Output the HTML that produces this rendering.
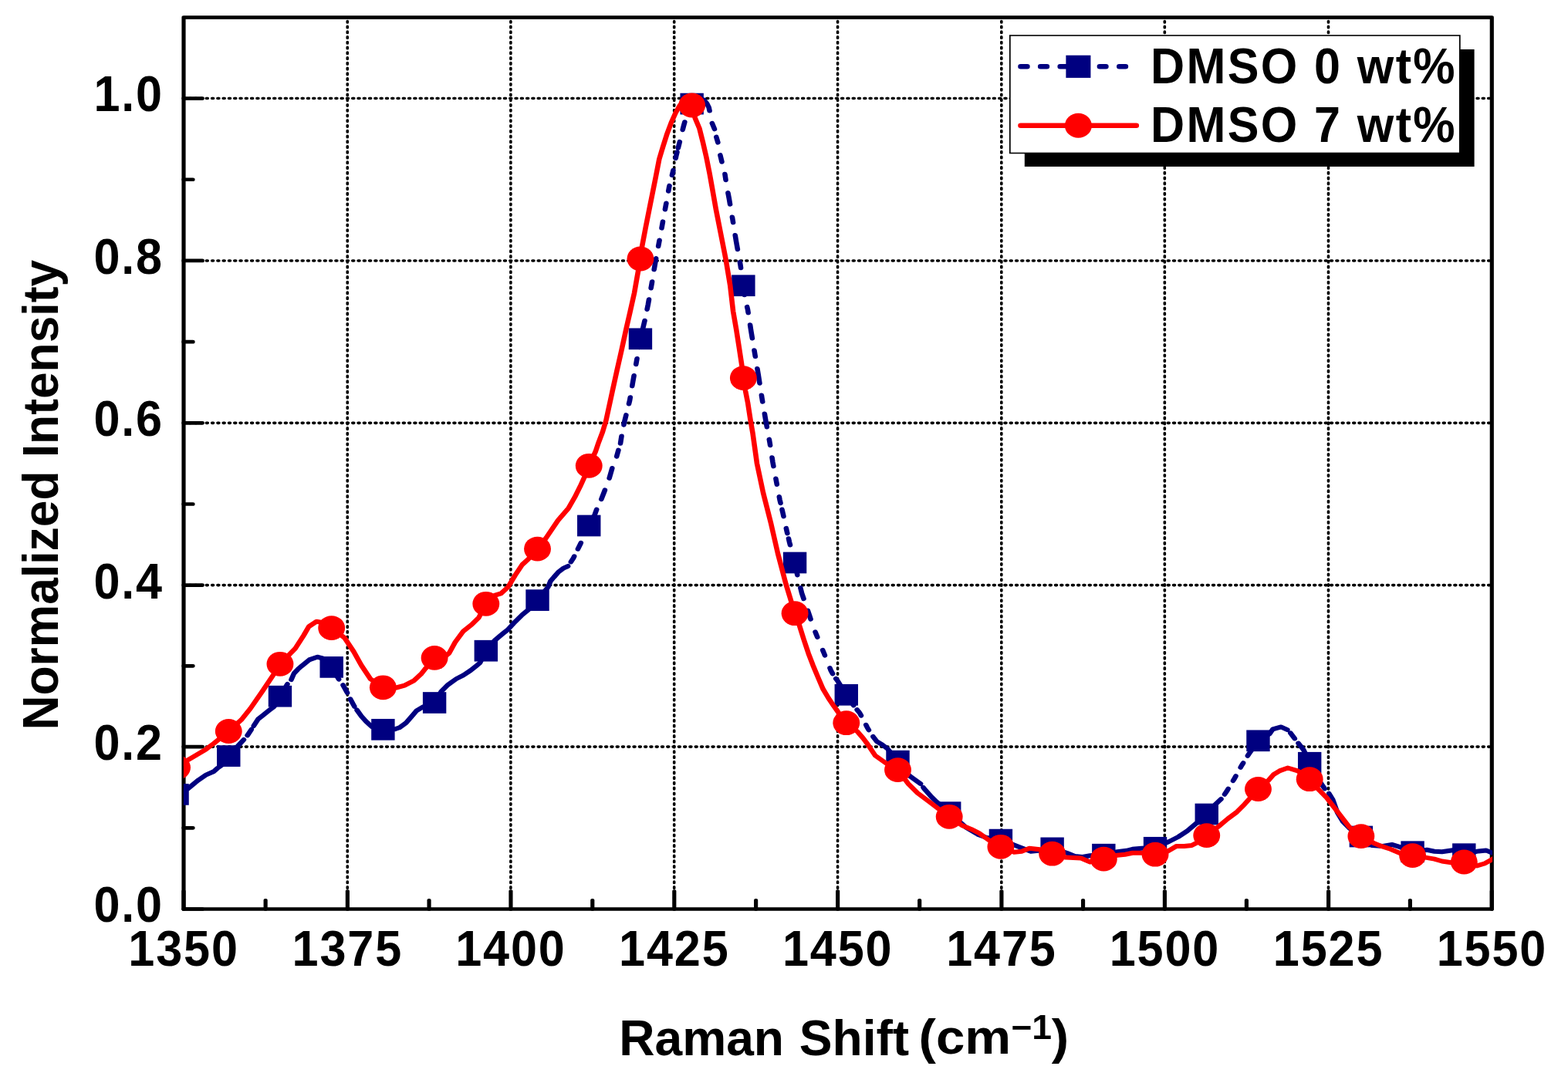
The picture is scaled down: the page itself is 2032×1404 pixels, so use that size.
<!DOCTYPE html>
<html lang="en"><head><meta charset="utf-8"><title>Raman spectra: DMSO 0 wt% vs DMSO 7 wt%</title>
<style>html,body{margin:0;padding:0;background:#fff}body{width:2032px;height:1404px}svg{display:block}text{font-family:"Liberation Sans",sans-serif;font-weight:bold;fill:#000}</style></head><body>
<svg width="2032" height="1404" viewBox="0 0 2032 1404" role="img" aria-label="Normalized Raman intensity versus Raman shift">
<rect width="2032" height="1404" fill="#ffffff"/>
<defs><clipPath id="plot"><rect x="216.77" y="22.7" width="1545.51" height="1155.8"/></clipPath></defs>
<g transform="scale(1.0975 1)">
<g stroke="#000" stroke-linecap="round" fill="none">
<g stroke-width="3.3" stroke-dasharray="1.75 5.011" stroke-dashoffset="2.06">
<line x1="410.25" y1="22.7" x2="410.25" y2="1178.5"/>
<line x1="603.05" y1="22.7" x2="603.05" y2="1178.5"/>
<line x1="796.08" y1="22.7" x2="796.08" y2="1178.5"/>
<line x1="989.11" y1="22.7" x2="989.11" y2="1178.5"/>
<line x1="1182.51" y1="22.7" x2="1182.51" y2="1178.5"/>
<line x1="1375.22" y1="22.7" x2="1375.22" y2="1178.5"/>
<line x1="1568.56" y1="22.7" x2="1568.56" y2="1178.5"/>
</g>
<g stroke-width="3.6" stroke-dasharray="1.5 5.139" stroke-dashoffset="-0.31">
<line x1="216.86" y1="127.55" x2="1761.55" y2="127.55"/>
<line x1="216.86" y1="337.95" x2="1761.55" y2="337.95"/>
<line x1="216.86" y1="548.35" x2="1761.55" y2="548.35"/>
<line x1="216.86" y1="758.6" x2="1761.55" y2="758.6"/>
<line x1="216.86" y1="968.1" x2="1761.55" y2="968.1"/>
</g>
</g>
<g stroke="#000" stroke-width="4.7" stroke-linecap="round" stroke-linejoin="round" fill="none">
<rect x="216.86" y="22.7" width="1544.69" height="1155.8"/>
<line x1="216.86" y1="1178.5" x2="216.86" y2="1155.5"/>
<line x1="313.55" y1="1178.5" x2="313.55" y2="1167.4"/>
<line x1="410.34" y1="1178.5" x2="410.34" y2="1155.5"/>
<line x1="506.65" y1="1178.5" x2="506.65" y2="1167.4"/>
<line x1="603.14" y1="1178.5" x2="603.14" y2="1155.5"/>
<line x1="699.57" y1="1178.5" x2="699.57" y2="1167.4"/>
<line x1="796.17" y1="1178.5" x2="796.17" y2="1155.5"/>
<line x1="892.6" y1="1178.5" x2="892.6" y2="1167.4"/>
<line x1="989.2" y1="1178.5" x2="989.2" y2="1155.5"/>
<line x1="1085.81" y1="1178.5" x2="1085.81" y2="1167.4"/>
<line x1="1182.6" y1="1178.5" x2="1182.6" y2="1155.5"/>
<line x1="1278.86" y1="1178.5" x2="1278.86" y2="1167.4"/>
<line x1="1375.31" y1="1178.5" x2="1375.31" y2="1155.5"/>
<line x1="1471.89" y1="1178.5" x2="1471.89" y2="1167.4"/>
<line x1="1568.66" y1="1178.5" x2="1568.66" y2="1155.5"/>
<line x1="1665.06" y1="1178.5" x2="1665.06" y2="1167.4"/>
<line x1="1761.55" y1="1178.5" x2="1761.55" y2="1155.5"/>
<line x1="216.86" y1="1178.5" x2="239" y2="1178.5"/>
<line x1="216.86" y1="1073.3" x2="227.79" y2="1073.3"/>
<line x1="216.86" y1="968.1" x2="239" y2="968.1"/>
<line x1="216.86" y1="863.35" x2="227.79" y2="863.35"/>
<line x1="216.86" y1="758.6" x2="239" y2="758.6"/>
<line x1="216.86" y1="653.48" x2="227.79" y2="653.48"/>
<line x1="216.86" y1="548.35" x2="239" y2="548.35"/>
<line x1="216.86" y1="443.15" x2="227.79" y2="443.15"/>
<line x1="216.86" y1="337.95" x2="239" y2="337.95"/>
<line x1="216.86" y1="232.75" x2="227.79" y2="232.75"/>
<line x1="216.86" y1="127.55" x2="239" y2="127.55"/>
</g>
<g clip-path="url(#plot)">
<path d="M209.16 1029.9L221.87 1022.4L234.26 1011.3L243.19 1004.6L252.21 1000.3L256.67 996L262.23 991.7L269.94 980.1L283.55 964L287.87 958.92M292.13 953.37L292.48 952.9L296.82 945.68M299.58 941.04L304.78 932.2L310.89 926.9L317.63 921L323.74 915.9L330.72 902.7L339.32 887L339.33 886.99M343.92 881.07L347.15 873L351.71 867.7L356.17 863.4L365.1 855.4L374.67 851.7L380.87 853.5L391.51 864.9L399.91 880.4L400.09 880.67M405.02 888.2L409.93 897.8L410.05 898.06M413.78 906.25L413.85 906.4L418.41 915.7L418.46 915.79M421.47 920.51L426.79 928.6L432.35 935.4L439.09 942.1L452.29 945.8L466.42 945.2L471.62 943.3L479.45 937.2L486.2 928.6L492.03 921.2L499.32 916.5L513.08 911L520.73 896.8L529.11 887.6L538.86 880L547.15 875.4L555.54 869.3L562.46 863.2L566.65 859.4L573.86 843.7L584.69 829.7L593.08 822L600 815.9L606.92 807.6L616.67 796.9L623.6 790.8L634.64 778.1L647.2 761L650.02 753.4L654.21 748L659.77 741.2L665.33 736.6L670.74 733.97M674.11 728.44L677.08 723.4L678.04 721.29M682.37 711.73L685.1 705.7L685.91 703.81M691.4 690.93L695.43 681.5L702.14 667.5L704.49 660.58M710.04 647.19L714.26 635.38M719.45 619.93L722.84 607.02M728.16 591.74L730.24 583.57M732.63 574.72L733.92 565.52M736.61 550.76L737.4 546.5L739.29 538.11M742.59 523.48L743.6 519L744.19 515.2M746.48 500.37L747.24 495.4L748.6 486.99M751 472.18L751.71 467.8L752.15 464.98M754.49 450.16L756.21 439.3L761.31 415.71M764.08 400.97L765.19 395L766.28 388.29M768.67 373.49L769.66 367.4L769.99 365.21M772.39 349.39L774.12 338L774.64 335.01M777.35 319.24L778.68 311.44M781.31 295.66L782.67 287.34M785.32 271.56L786.68 263.52M789.26 247.73L790.25 241.7L790.45 240.81M793.55 227.15L794.72 222L794.93 220.82M797.86 205.09L798.36 202.4L799.54 197.18M800.76 191.81L802.57 183.81M806.11 168.21L807.29 163L808.5 158.21M812.34 146.34L816.99 134.6L823.69 129.5L831.16 129.6L834.72 134.3L836.99 139.2L837.87 143.55M840.87 159.76L843.68 167.31M845.84 177.67L847.69 184.61M850.44 201.16L852.36 209.72M855.99 225.81L856.96 233.18M859.6 249.97L860.87 257.2L862.04 264.83M864.61 281.43L865.15 284.9L865.66 288.37M868.11 304.99L869.43 313.9L870.97 323.31M873.69 339.89L874.26 343.4L874.77 347.3M876.85 363.17L877.78 370.25L878.99 382.21M882.17 397.88L882.92 401.3L883.49 405.37M885.74 421.21L886.92 429.6L888.27 438.48M890.66 454.3L891.21 457.9L891.84 462.1M894.23 477.92L895.49 486.3L896.96 496.66M899.22 512.5L899.77 516.4L900.43 520.71M902.85 536.53L904.15 545L905.57 553.53M908.25 569.6L908.88 573.4L909.41 577.17M911.65 593.22L912.44 598.9L913.36 604.38M916.08 620.45L916.72 624.2L917.36 627.97M920.09 644.03L920.73 647.8L921.67 652.22M923.45 660.53L924.46 665.3L925.26 669.34M928.33 684.84L929.02 688.3L929.68 691.37M931.16 698.21L932.21 703.1L933.02 706.47M936.76 722.02L938.56 729.5L941.52 745.53M945.19 762.13L946.79 769.2L949 776.25M953.81 791.51L955.9 798.1L957.22 802.69M962.68 819.3L963.83 822.4L965.17 825.99M971.47 842.85L972.76 846.3L973.95 849.58M979.93 866.03L981.05 869.1L983.15 873.43M986.99 879.83L989.07 882.7L999.34 900.8L1007.87 914.45M1011.99 920.1L1014.94 924L1016.79 927.7M1022.55 939.8L1024.05 943.1L1025.87 946.4M1030.93 955.01L1035.35 961.2L1041.82 965.5L1047.84 970.5L1060.13 986.65L1074.35 1006.2L1081.91 1012.1L1087.03 1016.1M1090.24 1020.79L1091.57 1022.8L1099.13 1032.2L1105.6 1039.3L1120.91 1053.15L1140.05 1072.2L1154.35 1081.6L1165.1 1086L1181.69 1088.6L1201 1096.9L1217.13 1103.7L1226.15 1102.8L1242.48 1099.4L1260.23 1106L1269.16 1110L1278.18 1111L1287.11 1109.2L1303.26 1107.7L1319.36 1104.3L1330.11 1102.8L1337.31 1100.8L1348.06 1099.8L1364.05 1098.8L1380.41 1091L1391.16 1085L1401.91 1077.2L1412.67 1067.3L1424.83 1055.5L1435.08 1042.8L1441.87 1035.98M1446.03 1029.77L1448.56 1025.7L1450.24 1022.66M1456.04 1012.16L1457.68 1009.2L1459.24 1006.08M1464.86 994.92L1466.33 992L1467.96 989.15M1473.24 979.84L1474.35 977.9L1485.61 960.3L1499.13 951.3L1502.87 945.4L1512.62 942.4L1520.16 946.1M1523.79 950.34L1528.76 957.45M1533.09 963.57L1539.5 972.6L1546.4 988.75L1559.73 1015.4L1564.16 1022.46M1569.27 1028.58L1573.76 1036.7L1579.13 1053.2L1585.6 1065L1593.08 1073.3L1607.18 1084.5L1620.23 1095.9L1632.8 1096.9L1643.55 1094.9L1652.48 1097.9L1667.96 1104.2L1684.83 1101.8L1693.76 1103.8L1702.69 1104.3L1715.26 1102.2L1728.75 1107.2L1745.79 1103.4L1754.72 1102.4L1761 1105.3L1767.65 1107" fill="none" stroke="#000080" stroke-width="6" stroke-linecap="round" stroke-linejoin="round"/>
<rect x="195.31" y="1016.05" width="27.7" height="27.7" fill="#000080"/>
<rect x="256.09" y="966.25" width="27.7" height="27.7" fill="#000080"/>
<rect x="316.87" y="888.85" width="27.7" height="27.7" fill="#000080"/>
<rect x="377.66" y="851.05" width="27.7" height="27.7" fill="#000080"/>
<rect x="438.44" y="931.95" width="27.7" height="27.7" fill="#000080"/>
<rect x="499.23" y="897.15" width="27.7" height="27.7" fill="#000080"/>
<rect x="560.01" y="829.85" width="27.7" height="27.7" fill="#000080"/>
<rect x="620.79" y="764.25" width="27.7" height="27.7" fill="#000080"/>
<rect x="681.58" y="667.65" width="27.7" height="27.7" fill="#000080"/>
<rect x="742.36" y="425.45" width="27.7" height="27.7" fill="#000080"/>
<rect x="803.14" y="120.75" width="27.7" height="27.7" fill="#000080"/>
<rect x="863.93" y="356.4" width="27.7" height="27.7" fill="#000080"/>
<rect x="924.71" y="715.65" width="27.7" height="27.7" fill="#000080"/>
<rect x="985.49" y="886.95" width="27.7" height="27.7" fill="#000080"/>
<rect x="1046.28" y="972.8" width="27.7" height="27.7" fill="#000080"/>
<rect x="1107.06" y="1039.3" width="27.7" height="27.7" fill="#000080"/>
<rect x="1167.84" y="1074.75" width="27.7" height="27.7" fill="#000080"/>
<rect x="1228.63" y="1085.55" width="27.7" height="27.7" fill="#000080"/>
<rect x="1289.41" y="1093.85" width="27.7" height="27.7" fill="#000080"/>
<rect x="1350.2" y="1084.95" width="27.7" height="27.7" fill="#000080"/>
<rect x="1410.98" y="1041.65" width="27.7" height="27.7" fill="#000080"/>
<rect x="1471.76" y="946.45" width="27.7" height="27.7" fill="#000080"/>
<rect x="1532.55" y="974.9" width="27.7" height="27.7" fill="#000080"/>
<rect x="1593.33" y="1070.65" width="27.7" height="27.7" fill="#000080"/>
<rect x="1654.11" y="1090.35" width="27.7" height="27.7" fill="#000080"/>
<rect x="1714.9" y="1093.35" width="27.7" height="27.7" fill="#000080"/>
<path d="M209.16 995L220.77 986.1L231.98 978.7L243.19 971.4L252.21 964L257.86 959L269.94 948L284.92 933.2L295.67 918.5L309.98 895.8L324.37 872.2L330.72 860.8L348.61 840.7L358.45 824L364.74 812.2L373.67 805.7L381.78 807.2L391.51 814.1L406.83 826.9L417.59 844.6L426.61 862.4L437.36 880.1L452.29 891.3L467.97 891.5L477.63 888.7L488.75 882.3L497.13 873.9L502.69 866.3L513.08 852.9L525.74 851L530.48 846.5L537.4 832.7L547.15 818.2L556.9 809.8L565.28 800.7L573.86 782.8L584.69 771.7L591.62 769.4L600 761L608.29 745.8L616.67 732L623.6 725.2L634.64 711.6L644.74 697.5L658.86 674.7L671.07 659.2L678.63 644.7L685.19 630.3L689.93 618.9L695.43 603.8L699.32 594.5L703.05 585.8L706.88 573.4L711.53 560L715.63 545L723.1 507.2L728.47 480.4L733.94 453.8L739.23 427.2L744.15 403.6L748.97 380L752.16 360L756.21 335.5L758.09 319.8L762.37 295L767.74 265.4L774.21 230L778.41 206.3L782.69 190.6L787.24 174.8L792.53 159.1L797.72 146.3L802.73 136.5L809.57 130.5L816.99 136.5L820.77 153.1L825.88 166.5L829.89 184L834.08 204L837.9 225L840.64 241.7L845.38 271.3L851.03 302.8L857.04 336.2L862.14 370L865.69 403.6L869.43 427.2L872.71 450.3L875.9 473.3L877.78 490.1L880.18 506.5L882.92 521.7L886.2 545L888.93 562.3L893.85 601L901.14 638.7L910.25 678.1L918.45 717.5L927.93 756.9L938.56 795.2L943.87 810.6L949.25 829.5L954.62 847.2L960 862.6L965.38 876.8L971.85 893.3L978.31 905.1L984.78 915.7L990.16 924L999.34 937.2L1012.76 948.8L1019.23 957.1L1024.6 965L1033.44 979.5L1045.65 989L1060.13 998.1L1072.62 1016.2L1083.37 1028L1097.68 1039.8L1108.43 1048.7L1120.91 1058.8L1136.4 1070.3L1147.24 1075.2L1156.17 1080.1L1168.75 1090L1181.69 1097.8L1197.45 1104.7L1206.38 1103.7L1215.4 1099.8L1227.88 1101.2L1242.48 1106.7L1258.41 1111.6L1276.36 1112.6L1287.11 1117.5L1303.26 1113.6L1319.36 1108.7L1328.38 1107.7L1337.31 1105.7L1348.06 1105.7L1364.05 1107.7L1378.59 1103.7L1389.34 1096.9L1398.27 1096.9L1407.29 1095.9L1414.49 1091.9L1424.83 1083.1L1439.09 1071.3L1449.84 1061.4L1460.59 1052.6L1469.52 1042.7L1476.72 1033.9L1485.61 1023L1498.22 1011.2L1503.6 1004.3L1510.8 999.4L1520.64 995.5L1532.3 999.4L1546.4 1010.2L1557.45 1024L1566.38 1033.9L1575.4 1046.7L1584.33 1059.4L1593.26 1072.2L1607.18 1084.1L1622.05 1092.9L1630.98 1096.9L1641.73 1100.8L1652.48 1105.7L1667.96 1109.1L1683.01 1111.6L1693.76 1113.6L1702.69 1116.5L1715.26 1118.5L1728.75 1117.5L1743.96 1122.4L1752.98 1119.5L1761 1114.6L1767.65 1110" fill="none" stroke="#ff0000" stroke-width="6" stroke-linecap="round" stroke-linejoin="round"/>
<circle cx="209.16" cy="995" r="15.9" fill="#ff0000"/>
<circle cx="269.94" cy="948" r="15.9" fill="#ff0000"/>
<circle cx="330.72" cy="860.8" r="15.9" fill="#ff0000"/>
<circle cx="391.51" cy="814.1" r="15.9" fill="#ff0000"/>
<circle cx="452.29" cy="891.3" r="15.9" fill="#ff0000"/>
<circle cx="513.08" cy="852.9" r="15.9" fill="#ff0000"/>
<circle cx="573.86" cy="782.8" r="15.9" fill="#ff0000"/>
<circle cx="634.64" cy="711.6" r="15.9" fill="#ff0000"/>
<circle cx="695.43" cy="603.8" r="15.9" fill="#ff0000"/>
<circle cx="756.21" cy="335.5" r="15.9" fill="#ff0000"/>
<circle cx="816.99" cy="136.5" r="15.9" fill="#ff0000"/>
<circle cx="877.78" cy="490.1" r="15.9" fill="#ff0000"/>
<circle cx="938.56" cy="795.2" r="15.9" fill="#ff0000"/>
<circle cx="999.34" cy="937.2" r="15.9" fill="#ff0000"/>
<circle cx="1060.13" cy="998.1" r="15.9" fill="#ff0000"/>
<circle cx="1120.91" cy="1058.8" r="15.9" fill="#ff0000"/>
<circle cx="1181.69" cy="1097.8" r="15.9" fill="#ff0000"/>
<circle cx="1242.48" cy="1106.7" r="15.9" fill="#ff0000"/>
<circle cx="1303.26" cy="1113.6" r="15.9" fill="#ff0000"/>
<circle cx="1364.05" cy="1107.7" r="15.9" fill="#ff0000"/>
<circle cx="1424.83" cy="1083.1" r="15.9" fill="#ff0000"/>
<circle cx="1485.61" cy="1023" r="15.9" fill="#ff0000"/>
<circle cx="1546.4" cy="1010.2" r="15.9" fill="#ff0000"/>
<circle cx="1607.18" cy="1084.1" r="15.9" fill="#ff0000"/>
<circle cx="1667.96" cy="1109.1" r="15.9" fill="#ff0000"/>
<circle cx="1728.75" cy="1117.5" r="15.9" fill="#ff0000"/>
</g>
<g>
<rect x="1209.84" y="64" width="531.03" height="152" fill="#000"/>
<rect x="1192.53" y="46" width="531.21" height="152.5" fill="#fff" stroke="#000" stroke-width="1.6"/>
<path d="M1205.2 86.3H1212.93M1228.62 86.3H1236.16M1251.86 86.3H1266.05M1298.51 86.3H1305.87M1321.65 86.3H1329.1" fill="none" stroke="#000080" stroke-width="6.4" stroke-linecap="round"/>
<rect x="1258.66" y="71.7" width="29.2" height="29.2" fill="#000080"/>
<path d="M1205.2 162.8H1341.77" fill="none" stroke="#ff0000" stroke-width="6.4" stroke-linecap="round"/>
<circle cx="1273.26" cy="162.8" r="15.95" fill="#ff0000"/>
</g>
</g>
<g>
<text transform="translate(1491 107.7) scale(0.95 1)" font-size="64.3" text-anchor="start" letter-spacing="2.5">DMSO 0 wt%</text>
<text transform="translate(1491 183.8) scale(0.95 1)" font-size="64.3" text-anchor="start" letter-spacing="2.5">DMSO 7 wt%</text>
</g>
<g>
<text transform="translate(238.1 1251.6) scale(0.935 1)" font-size="65.4" text-anchor="middle" letter-spacing="2">1350</text>
<text transform="translate(450.35 1251.6) scale(0.935 1)" font-size="65.4" text-anchor="middle" letter-spacing="2">1375</text>
<text transform="translate(661.95 1251.6) scale(0.935 1)" font-size="65.4" text-anchor="middle" letter-spacing="2">1400</text>
<text transform="translate(873.8 1251.6) scale(0.935 1)" font-size="65.4" text-anchor="middle" letter-spacing="2">1425</text>
<text transform="translate(1085.65 1251.6) scale(0.935 1)" font-size="65.4" text-anchor="middle" letter-spacing="2">1450</text>
<text transform="translate(1297.9 1251.6) scale(0.935 1)" font-size="65.4" text-anchor="middle" letter-spacing="2">1475</text>
<text transform="translate(1509.4 1251.6) scale(0.935 1)" font-size="65.4" text-anchor="middle" letter-spacing="2">1500</text>
<text transform="translate(1721.6 1251.6) scale(0.935 1)" font-size="65.4" text-anchor="middle" letter-spacing="2">1525</text>
<text transform="translate(1933.4 1251.6) scale(0.935 1)" font-size="65.4" text-anchor="middle" letter-spacing="2">1550</text>
<text transform="translate(212 1195.1) scale(0.935 1)" font-size="65.4" text-anchor="end" letter-spacing="2">0.0</text>
<text transform="translate(212 985) scale(0.935 1)" font-size="65.4" text-anchor="end" letter-spacing="2">0.2</text>
<text transform="translate(212 775.5) scale(0.935 1)" font-size="65.4" text-anchor="end" letter-spacing="2">0.4</text>
<text transform="translate(212 565.25) scale(0.935 1)" font-size="65.4" text-anchor="end" letter-spacing="2">0.6</text>
<text transform="translate(212 354.85) scale(0.935 1)" font-size="65.4" text-anchor="end" letter-spacing="2">0.8</text>
<text transform="translate(212 144.45) scale(0.935 1)" font-size="65.4" text-anchor="end" letter-spacing="2">1.0</text>
</g>
<text transform="translate(802.2 1367.6) scale(0.9866 1)" font-size="65" text-anchor="start" xml:space="preserve">Raman <tspan dx="2">Shift</tspan></text>
<text transform="translate(1190.5 1365.6) scale(1.06 1)" font-size="63.5" text-anchor="start">(cm<tspan font-size="43.75" dy="-18.9">−1</tspan><tspan dy="18.9" dx="-0.2">)</tspan></text>
<text transform="translate(75 641.7) rotate(-90) scale(0.959 1)" font-size="65" text-anchor="middle">Normalized Intensity</text>
</svg></body></html>
